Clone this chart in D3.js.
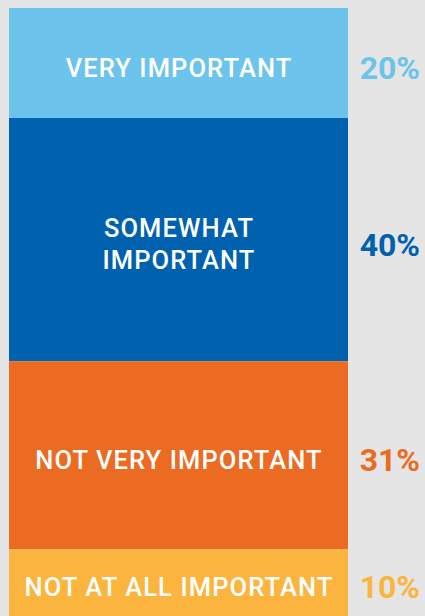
<!DOCTYPE html>
<html>
<head>
<meta charset="utf-8">
<script src="https://cdn.jsdelivr.net/npm/d3@7"></script>
<style>
  html, body { margin: 0; padding: 0; background: #e5e5e5; }
  svg { display: block; }
</style>
</head>
<body>
<svg id="chart" width="425" height="616"></svg>
<script>
// Data
const categories = ["VERY IMPORTANT", "SOMEWHAT IMPORTANT", "NOT VERY IMPORTANT", "NOT AT ALL IMPORTANT"];
const categoryLines = [["VERY IMPORTANT"], ["SOMEWHAT", "IMPORTANT"], ["NOT VERY IMPORTANT"], ["NOT AT ALL IMPORTANT"]];
const pctLabels = ["20%", "40%", "31%", "10%"];
// segment extents as drawn in the picture (share of the bar)
const shares = [18.1, 40, 30.9, 11];
const colors = ["#6cc4ec", "#0061ae", "#eb6b22", "#fbb43e"];

const W = 425, H = 616;
const margin = { top: 8, left: 9, barRight: 348 };
const svg = d3.select("#chart");

const stack = [];
let acc = 0;
shares.forEach((v, i) => { stack.push({ i, y0: acc, y1: acc + v }); acc += v; });

const y = d3.scaleLinear().domain([0, d3.sum(shares)]).range([margin.top, H]);
const x = d3.scaleLinear().domain([0, 1]).range([margin.left, margin.barRight]);

svg.append("rect").attr("width", W).attr("height", H).attr("fill", "#e5e5e5");

svg.selectAll("rect.seg").data(stack).join("rect")
  .attr("class", "seg")
  .attr("x", x(0))
  .attr("width", x(1) - x(0))
  .attr("y", d => y(d.y0))
  .attr("height", d => y(d.y1) - y(d.y0))
  .attr("fill", d => colors[d.i]);

const fontSize = 25.5, lineH = 31.5, cap = 0.711, pctSize = 32;
const g = svg.selectAll("g.lab").data(stack).join("g").attr("class", "lab");

g.each(function(d) {
  const lines = categoryLines[d.i];
  const cy = (y(d.y0) + y(d.y1)) / 2 + 4.5;
  const firstBase = cy - (lines.length - 1) * lineH / 2 + fontSize * cap / 2;
  const t = d3.select(this).append("text")
    .attr("text-anchor", "middle")
    .attr("font-family", "Roboto, 'Noto Sans', sans-serif")
    .attr("font-weight", 500)
    .attr("letter-spacing", 1.1)
    .attr("font-size", fontSize)
    .attr("fill", "#ffffff");
  lines.forEach((ln, k) => {
    t.append("tspan").attr("x", (x(0) + x(1)) / 2 + 0.5).attr("y", firstBase + k * lineH).text(ln);
  });
  d3.select(this).append("text")
    .attr("x", 420)
    .attr("y", cy + pctSize * cap / 2)
    .attr("text-anchor", "end")
    .attr("font-family", "Roboto, 'Noto Sans', sans-serif")
    .attr("font-weight", "bold")
    .attr("font-size", pctSize)
    .attr("fill", colors[d.i])
    .text(pctLabels[d.i]);
});
</script>
</body>
</html>
